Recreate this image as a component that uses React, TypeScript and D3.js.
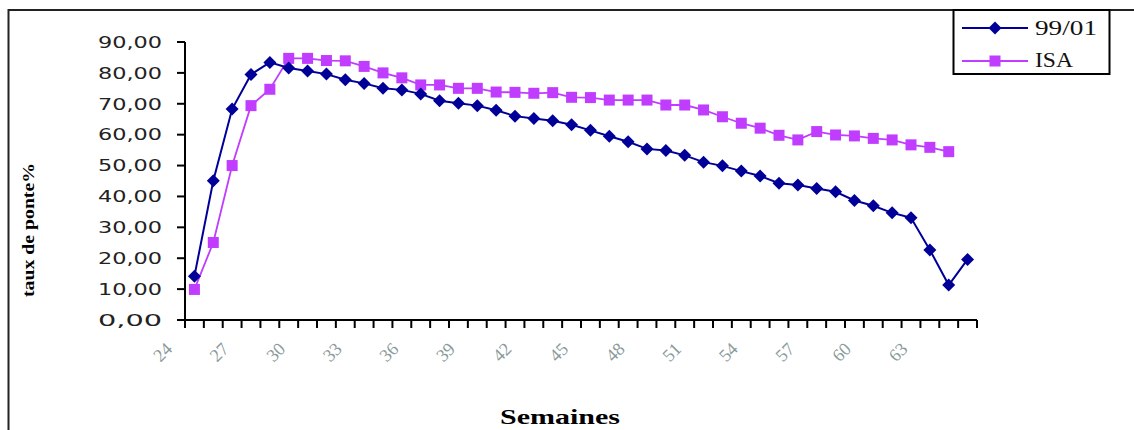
import React from "react";
import * as d3 from "d3";

// Week numbers on the category axis
const weeks = [
  "24", "25", "26", "27", "28", "29", "30", "31", "32", "33", "34", "35", "36", "37",
  "38", "39", "40", "41", "42", "43", "44", "45", "46", "47", "48", "49", "50", "51",
  "52", "53", "54", "55", "56", "57", "58", "59", "60", "61", "62", "63", "64", "65",
];

// Laying rate (%) per week, flock 99/01
const series9901 = [
  14.2, 45.1, 68.3, 79.5, 83.4, 81.6, 80.6, 79.6, 77.8, 76.6, 75.0, 74.5, 73.2, 71.0,
  70.2, 69.4, 67.9, 66.0, 65.2, 64.5, 63.2, 61.4, 59.5, 57.7, 55.4, 54.9, 53.3, 51.1,
  49.9, 48.2, 46.6, 44.3, 43.7, 42.6, 41.5, 38.7, 37.0, 34.7, 33.1, 22.7, 11.3, 19.6,
];

// Laying rate (%) per week, ISA reference curve
const seriesISA = [
  9.9, 25.1, 50.0, 69.4, 74.7, 84.7, 84.7, 84.0, 83.9, 82.1, 80.0, 78.4, 76.1, 76.1,
  75.0, 75.0, 73.8, 73.7, 73.4, 73.6, 72.1, 72.0, 71.2, 71.2, 71.2, 69.6, 69.6, 68.0,
  65.8, 63.7, 62.1, 59.8, 58.3, 61.0, 59.9, 59.6, 58.8, 58.3, 56.7, 55.9, 54.5,
];

const yTicks = [0, 10, 20, 30, 40, 50, 60, 70, 80, 90];
const labelledWeeks = ["24", "27", "30", "33", "36", "39", "42", "45", "48", "51", "54", "57", "60", "63"];

const seriesNames = ["99/01", "ISA"];

const BLUE = "#000099";
const PURPLE = "#c03cff";

const diamond = "M0,-6.5L6.5,0L0,6.5L-6.5,0Z";

export default function App() {
  const x = d3.scaleBand<string>().domain(weeks).range([185, 977]).padding(0);
  const y = d3.scaleLinear().domain([0, 90]).range([320, 42]);
  const cx = (w: string) => (x(w) ?? 0) + x.bandwidth() / 2;

  const line = d3
    .line<[string, number]>()
    .x((d) => cx(d[0]))
    .y((d) => y(d[1]));

  const pts9901: [string, number][] = series9901.map((v, i) => [weeks[i], v]);
  const ptsISA: [string, number][] = seriesISA.map((v, i) => [weeks[i], v]);

  const fmt = (v: number) => d3.format(".2f")(v).replace(".", ",");

  const [x0, x1] = x.range();
  const boundaries = weeks.map((w) => x(w) ?? 0).concat([x1]);

  return (
    <svg
      width={1134}
      height={430}
      style={{ position: "absolute", left: 0, top: 0, background: "#fff" }}
    >
      {/* chart area frame */}
      <rect x={8.5} y={10} width={1200} height={500} fill="none" stroke="#222" strokeWidth={2} />

      {/* y axis */}
      <line x1={x0} x2={x0} y1={y(90)} y2={y(0)} stroke="#000" strokeWidth={2} />
      {yTicks.map((t) => (
        <g key={t}>
          <line x1={x0 - 8} x2={x0} y1={y(t)} y2={y(t)} stroke="#000" strokeWidth={2} />
          <text
            x={162}
            y={y(t)}
            dy="0.36em"
            textAnchor="end"
            fontFamily="DejaVu Sans"
            fontSize={16}
            fill="#222"
            textLength={64}
            lengthAdjust="spacingAndGlyphs"
          >
            {fmt(t)}
          </text>
        </g>
      ))}

      {/* x axis */}
      <line x1={x0} x2={x1} y1={y(0)} y2={y(0)} stroke="#000" strokeWidth={2} />
      {boundaries.map((b, i) => (
        <line key={i} x1={b} x2={b} y1={y(0)} y2={y(0) + 8} stroke="#000" strokeWidth={2} />
      ))}
      {labelledWeeks.map((w) => (
        <g key={w} transform={`translate(${cx(w) - 32},352)`}>
          <g transform="rotate(-45)">
            <text
              textAnchor="middle"
              dy="0.35em"
              fontFamily="Liberation Serif"
              fontSize={18}
              fill="#8a9a9a"
            >
              {w}
            </text>
          </g>
        </g>
      ))}

      {/* axis titles */}
      <text
        x={500}
        y={424}
        fontFamily="Liberation Serif"
        fontWeight="bold"
        fontSize={21}
        textLength={120}
        lengthAdjust="spacingAndGlyphs"
        fill="#000"
      >
        Semaines
      </text>
      <g transform="translate(34,297)">
        <g transform="rotate(-90)">
          <text
            fontFamily="Liberation Serif"
            fontWeight="bold"
            fontSize={17}
            textLength={134}
            lengthAdjust="spacingAndGlyphs"
            fill="#000"
          >
            taux de ponte%
          </text>
        </g>
      </g>

      {/* ISA series */}
      <path d={line(ptsISA) ?? ""} fill="none" stroke={PURPLE} strokeWidth={1.8} />
      {ptsISA.map((d, i) => (
        <rect key={i} x={cx(d[0]) - 5.5} y={y(d[1]) - 5.5} width={11} height={11} fill={PURPLE} />
      ))}

      {/* 99/01 series */}
      <path d={line(pts9901) ?? ""} fill="none" stroke={BLUE} strokeWidth={2} />
      {pts9901.map((d, i) => (
        <path key={i} d={diamond} transform={`translate(${cx(d[0])},${y(d[1])})`} fill={BLUE} />
      ))}

      {/* legend */}
      <rect x={953.5} y={10} width={156} height={64} fill="#fff" stroke="#000" strokeWidth={2} />
      <g>
        <line x1={962} x2={1028} y1={28} y2={28} stroke={BLUE} strokeWidth={2} />
        <path d={diamond} transform="translate(995,28)" fill={BLUE} />
        <text x={1035} y={35} fontFamily="Liberation Serif" fontSize={20} textLength={62} lengthAdjust="spacingAndGlyphs" fill="#111">
          {seriesNames[0]}
        </text>
      </g>
      <g>
        <line x1={962} x2={1028} y1={61} y2={61} stroke={PURPLE} strokeWidth={1.8} />
        <rect x={989.5} y={55.5} width={11} height={11} fill={PURPLE} />
        <text x={1035} y={67} fontFamily="Liberation Serif" fontSize={20} textLength={38} lengthAdjust="spacingAndGlyphs" fill="#111">
          {seriesNames[1]}
        </text>
      </g>
    </svg>
  );
}
